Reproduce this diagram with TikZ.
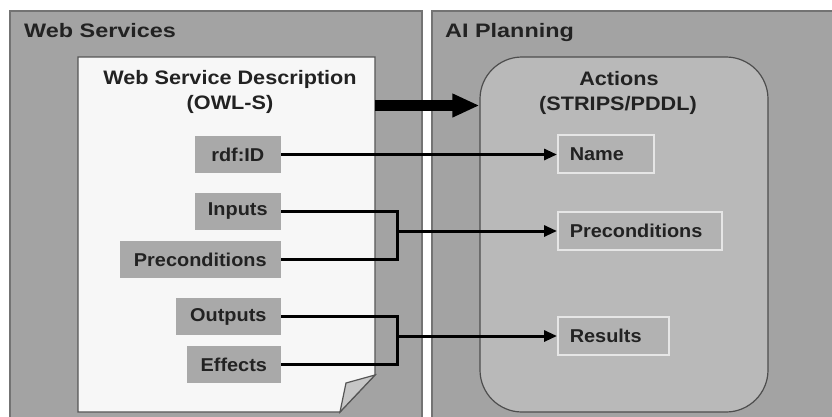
\documentclass[tikz,border=0pt]{standalone}
\usepackage{fontspec}
\setmainfont{Liberation Sans}
\newfontfamily\titlefont[FakeStretch=1.2]{Liberation Sans}
\newfontfamily\headfont[FakeStretch=1.11]{Liberation Sans}
\newfontfamily\boxfont[FakeStretch=1.07]{Liberation Sans}
\usetikzlibrary{arrows.meta,positioning}
\definecolor{panelfill}{HTML}{A3A3A3}
\definecolor{panelline}{HTML}{737373}
\definecolor{docfill}{HTML}{F7F7F7}
\definecolor{docline}{HTML}{555555}
\definecolor{actfill}{HTML}{B9B9B9}
\definecolor{actline}{HTML}{4D4D4D}
\definecolor{fieldfill}{HTML}{A9A9A9}
\definecolor{termfill}{HTML}{B2B2B2}
\definecolor{termline}{HTML}{E6E6E6}
\definecolor{flapfill}{HTML}{C6C6C6}
\definecolor{inktext}{HTML}{222222}

\begin{document}
\begin{tikzpicture}[x=1pt,y=-1pt,
  panel/.style={fill=panelfill,draw=panelline,line width=1.5pt},
  paneltitle/.style={inner sep=0pt,text=inktext,font=\titlefont\bfseries\fontsize{19.5pt}{23pt}\selectfont},
  headtext/.style={inner sep=0pt,text=inktext,font=\headfont\bfseries\fontsize{19.5pt}{23pt}\selectfont},
  field/.style={fill=fieldfill,inner sep=0pt,minimum height=37pt,anchor=east,text=inktext,font=\boxfont\bfseries\fontsize{18.6pt}{22pt}\selectfont},
  term/.style={fill=termfill,draw=termline,line width=1.5pt,inner xsep=12pt,inner ysep=0pt,minimum height=38pt,anchor=west,align=left,text=inktext,font=\boxfont\bfseries\fontsize{18.6pt}{22pt}\selectfont},
  link/.style={line width=3pt,black},
  flow/.style={line width=3pt,black,-{Triangle[length=13pt,width=11pt]}},
  bigflow/.style={line width=10.5pt,black,-{Triangle[length=27pt,width=22pt]}}]
\useasboundingbox (0,0) rectangle (832,416);
\clip (0,0) rectangle (832,416);
\fill [white] (0,0) rectangle (832,416);

% the two panels
\draw [panel] (10,11) rectangle (422,430);
\draw [panel] (432,11) rectangle (850,430);
\node [paneltitle,anchor=base west] (wstitle) at (24,37) {Web Services};
\node [paneltitle,anchor=base west] (aptitle) at (445,37) {AI Planning};

% service description sheet with folded corner
\draw [fill=docfill,draw=docline,line width=1.2pt] (78,57) -- (375,57) -- (375,375) -- (340,412) -- (78,412) -- cycle;
\draw [fill=flapfill,draw=docline,line width=1.2pt] (375,375) -- (346,383) -- (340,412) -- cycle;
\node [headtext,anchor=base] (wsd) at (230,84) {Web Service Description};
\node [headtext,anchor=base] (owls) at (230,109) {(OWL-S)};
\coordinate (sheet) at (375,105.5);

% actions
\node [fill=actfill,draw=actline,line width=1.2pt,rounded corners=42pt,minimum width=288pt,minimum height=355pt] (act) at (624,234.5) {};
\node [headtext,anchor=base] (actions) at (619,85) {Actions};
\node [headtext,anchor=base] (strips) at (618,110) {(STRIPS/PDDL)};

% fields of the description
\node [field,minimum width=86pt] (rdf) at (281,154.5) {rdf:ID};
\node [field,minimum width=86pt] (inp) at (281,211.5) {Inputs};
\node [field,minimum width=161pt] (pre) at (281,259.5) {Preconditions};
\node [field,minimum width=105pt] (outp) at (281,316.5) {Outputs};
\node [field,minimum width=94pt] (eff) at (281,364.5) {Effects};

% parts of an action
\node [term,text width=72pt] (name) at (557,154) {Name};
\node [term,text width=140pt] (cond) at (557,231) {Preconditions};
\node [term,text width=87pt] (res) at (557,336) {Results};

% mappings
\draw [bigflow] (sheet) -- (sheet -| act.west);
\draw [flow] (rdf.east) -- (rdf.east -| name.west);
\coordinate (j1) at (397,231);
\coordinate (j2) at (397,336);
\draw [link] (inp.east) -| (j1) |- (pre.east);
\draw [flow] (j1) -- (cond.west);
\draw [link] (outp.east) -| (j2) |- (eff.east);
\draw [flow] (j2) -- (res.west);
\end{tikzpicture}
\end{document}
